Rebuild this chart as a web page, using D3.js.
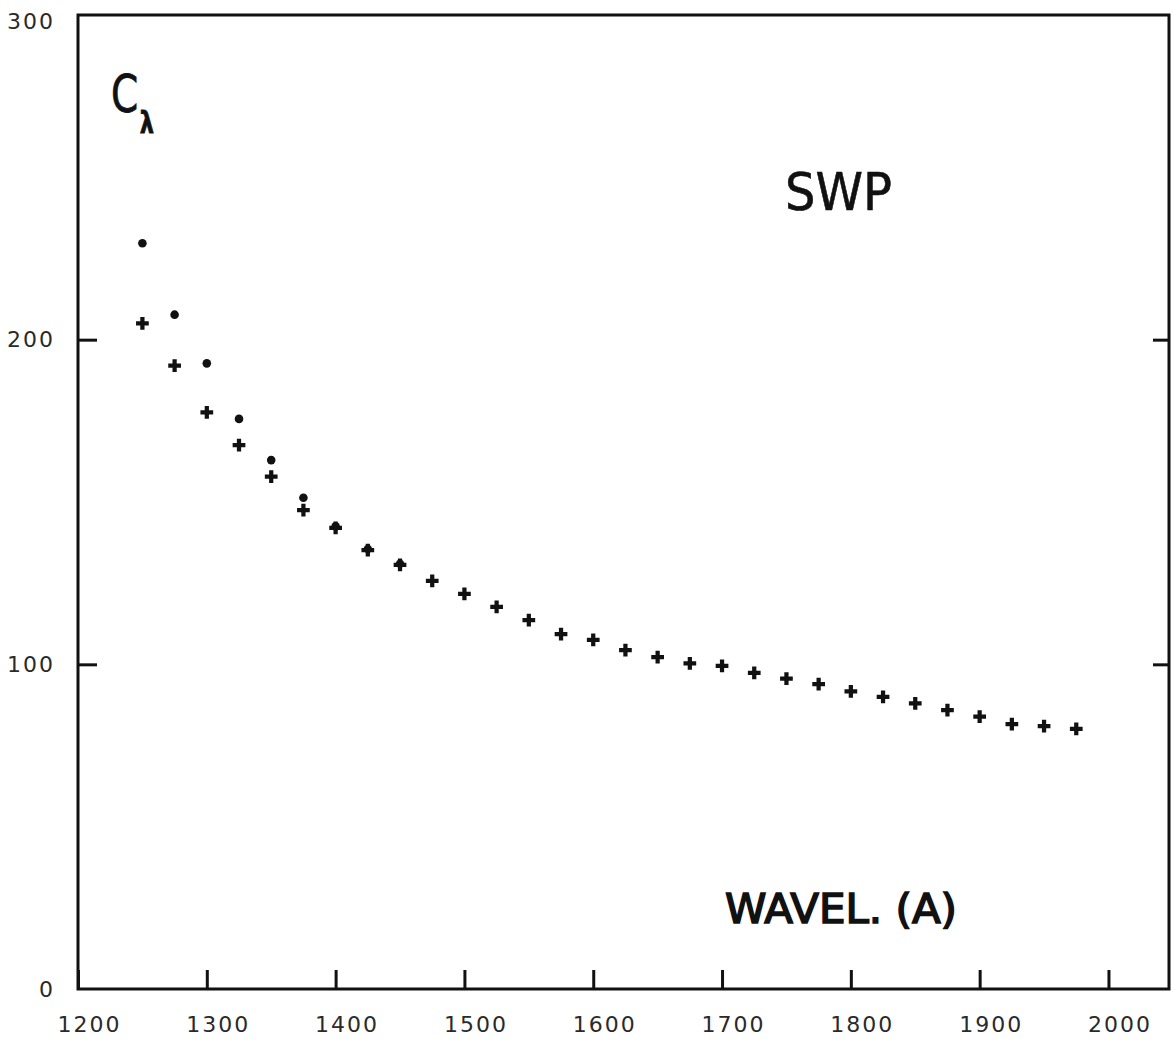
<!DOCTYPE html>
<html>
<head>
<meta charset="utf-8">
<script src="https://cdn.jsdelivr.net/npm/d3@7"></script>
<style>
  html, body { margin: 0; padding: 0; background: #fff; }
  svg { display: block; }
</style>
</head>
<body>
<svg id="chart" width="1173" height="1044"></svg>
<script>
// Wavelengths (Angstrom) and calibration factors C_lambda
const wavePlus = [1250, 1275, 1300, 1325, 1350, 1375, 1400, 1425, 1450, 1475, 1500, 1525, 1550, 1575, 1600,
                  1625, 1650, 1675, 1700, 1725, 1750, 1775, 1800, 1825, 1850, 1875, 1900, 1925, 1950, 1975];
const cPlus = [205.0, 192.0, 177.6, 167.5, 157.8, 147.5, 142.0, 135.2, 130.6, 125.7, 121.7, 117.7, 113.6, 109.3, 107.5,
               104.4, 102.2, 100.3, 99.5, 97.4, 95.6, 93.9, 91.7, 90.0, 88.0, 85.9, 83.9, 81.6, 81.0, 80.1];

const waveDot = [1250, 1275, 1300, 1325, 1350, 1375, 1400, 1425, 1450];
const cDot = [229.7, 207.7, 192.7, 175.6, 162.9, 151.3, 142.5, 135.5, 131.0];

const xTicks = [1200, 1300, 1400, 1500, 1600, 1700, 1800, 1900, 2000];
const yTicks = [0, 100, 200, 300];
const yInnerTicks = [100, 200];

const svg = d3.select("#chart");
const frameL = 78, frameR = 1169, frameT = 15, frameB = 989;
const ink = "#111";

const x = d3.scaleLinear().domain([1200, 2047]).range([frameL, frameR]);
const y = d3.scaleLinear().domain([0, 300]).range([frameB, frameT]);

function styleTickText(sel) {
  sel.attr("font-family", "DejaVu Sans, sans-serif")
     .attr("font-size", 22)
     .attr("letter-spacing", 2)
     .attr("fill", "#2a2a2a");
}

// Frame
svg.append("rect")
  .attr("x", frameL).attr("y", frameT)
  .attr("width", frameR - frameL).attr("height", frameB - frameT)
  .attr("fill", "none").attr("stroke", ink).attr("stroke-width", 3);

// Bottom axis with inward ticks
const gx = svg.append("g")
  .attr("transform", `translate(0,${frameB})`)
  .call(d3.axisBottom(x).tickValues(xTicks).tickFormat(d3.format("d"))
        .tickSizeInner(-19).tickSizeOuter(0).tickPadding(27));
gx.select(".domain").remove();
gx.selectAll(".tick line").attr("stroke", ink).attr("stroke-width", 3);
gx.selectAll(".tick text").call(styleTickText).attr("dx", 11);

// Left axis with inward ticks
const gy = svg.append("g")
  .attr("transform", `translate(${frameL},0)`)
  .call(d3.axisLeft(y).tickValues(yTicks).tickFormat(d3.format("d"))
        .tickSizeInner(-19).tickSizeOuter(0).tickPadding(23));
gy.select(".domain").remove();
gy.selectAll(".tick line").attr("stroke", ink).attr("stroke-width", 3)
  .attr("display", d => yInnerTicks.includes(d) ? null : "none");
gy.selectAll(".tick text").call(styleTickText)
  .attr("dy", d => d === 300 ? "0.6em" : "0.32em");

// Right axis ticks
const gr = svg.append("g")
  .attr("transform", `translate(${frameR},0)`)
  .call(d3.axisRight(y).tickValues(yInnerTicks).tickFormat("")
        .tickSizeInner(-16).tickSizeOuter(0));
gr.select(".domain").remove();
gr.selectAll(".tick line").attr("stroke", ink).attr("stroke-width", 3);

// Crosses
const cross = d3.symbol().type(d3.symbolCross).size(90);
svg.append("g").selectAll("path")
  .data(wavePlus.map((w, i) => [w, cPlus[i]]))
  .join("path")
  .attr("transform", d => `translate(${x(d[0])},${y(d[1])})`)
  .attr("d", cross)
  .attr("fill", ink);

// Dots
svg.append("g").selectAll("circle")
  .data(waveDot.map((w, i) => [w, cDot[i]]))
  .join("circle")
  .attr("cx", d => x(d[0]))
  .attr("cy", d => y(d[1]))
  .attr("r", 4.3)
  .attr("fill", ink);

// C_lambda label: one text with a subscript tspan
const cl = svg.append("text")
  .attr("transform", "translate(111,112) scale(0.75,1)")
  .attr("font-family", "DejaVu Sans, sans-serif")
  .attr("fill", ink).attr("stroke", ink).attr("stroke-width", 0.8);
cl.append("tspan").attr("font-size", 52).text("C");
cl.append("tspan").attr("font-size", 30).attr("dx", 2).attr("dy", 21)
  .attr("font-weight", "bold").text("λ");

svg.append("text")
  .attr("x", 785).attr("y", 210)
  .attr("font-family", "DejaVu Sans, sans-serif").attr("font-size", 52)
  .attr("textLength", 107).attr("lengthAdjust", "spacingAndGlyphs")
  .attr("fill", ink).attr("stroke", ink).attr("stroke-width", 0.6)
  .text("SWP");

svg.append("text")
  .attr("x", 725).attr("y", 923)
  .attr("font-family", "DejaVu Sans, sans-serif").attr("font-size", 41)
  .attr("textLength", 232).attr("lengthAdjust", "spacingAndGlyphs")
  .attr("fill", ink).attr("stroke", ink).attr("stroke-width", 1.6)
  .text("WAVEL. (A)");
</script>
</body>
</html>
